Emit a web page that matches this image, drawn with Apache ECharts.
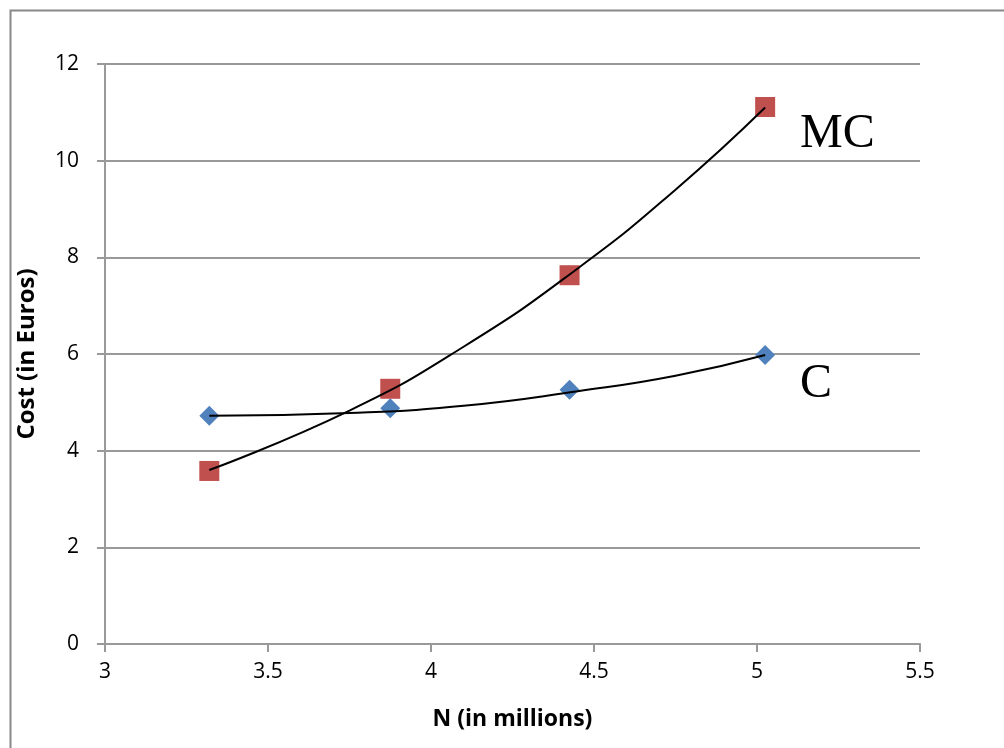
<!DOCTYPE html>
<html>
<head>
<meta charset="UTF-8">
<title>cost</title>
<script src="https://cdn.jsdelivr.net/npm/echarts@6/dist/echarts.min.js"></script>
<style>
	body { margin: 0; background: #fff; }
	#chart { width: 1004px; height: 748px; }
</style>
</head>
<body>
<div id="chart"></div>
<script>
	// data
	var nValues = [3.32, 3.875, 4.425, 5.025];
	var cValues = [4.72, 4.88, 5.26, 5.98];
	var mcValues = [3.58, 5.28, 7.63, 11.11];

	// trend lines
	var cTrendX = [3.32, 3.75, 4.1, 4.45, 4.75, 5.025];
	var cTrendY = [4.72, 4.78, 4.93, 5.23, 5.55, 5.98];
	var mcTrendX = [3.32, 3.75, 4.1, 4.45, 4.75, 5.025];
	var mcTrendY = [3.6, 4.83, 6.15, 7.77, 9.4, 11.1];

	function pairs(xs, ys) {
		var out = [];
		for (var i = 0; i < xs.length; i++) out.push([xs[i], ys[i]]);
		return out;
	}

	var myChart = echarts.init(document.getElementById('chart'));
	var option = {
		animation: false,
		grid: { left: 105, right: 84, top: 64, bottom: 104 },
		graphic: [
			{ type: 'rect', left: 8, top: 8, shape: { width: 1020, height: 770 },
			  style: { fill: 'none', stroke: '#888', lineWidth: 2 } },
			{ type: 'text', left: 800, top: 110,
			  style: { text: 'MC', font: '48px "Liberation Serif", serif', fill: '#000' } },
			{ type: 'text', left: 800, top: 360,
			  style: { text: 'C', font: '48px "Liberation Serif", serif', fill: '#000' } }
		],
		xAxis: {
			type: 'value', min: 3, max: 5.5, interval: 0.5,
			name: 'N (in millions)', nameLocation: 'middle', nameGap: 64,
			nameTextStyle: { fontFamily: 'Open Sans', fontWeight: 'bold', fontSize: 23, color: '#000' },
			axisLine: { lineStyle: { color: '#999', width: 2 } },
			axisTick: { show: true, length: 8, lineStyle: { color: '#999', width: 2 } },
			axisLabel: { fontFamily: 'Open Sans', fontSize: 21, color: '#000', margin: 18 },
			splitLine: { show: false }
		},
		yAxis: {
			type: 'value', min: 0, max: 12, interval: 2,
			name: 'Cost (in Euros)', nameLocation: 'middle', nameGap: 66,
			nameTextStyle: { fontFamily: 'Open Sans', fontWeight: 'bold', fontSize: 24, color: '#000' },
			axisLine: { show: true, lineStyle: { color: '#999', width: 2 } },
			axisTick: { show: true, length: 8, lineStyle: { color: '#999', width: 2 } },
			axisLabel: { fontFamily: 'Open Sans', fontSize: 21, color: '#000', margin: 26 },
			splitLine: { lineStyle: { color: '#999', width: 2 } }
		},
		series: [
			{
				name: 'C trend', type: 'line', smooth: 0.5, showSymbol: false,
				data: pairs(cTrendX, cTrendY),
				lineStyle: { color: '#000', width: 2 }, z: 3
			},
			{
				name: 'MC trend', type: 'line', smooth: 0.5, showSymbol: false,
				data: pairs(mcTrendX, mcTrendY),
				lineStyle: { color: '#000', width: 2 }, z: 3
			},
			{
				name: 'C', type: 'scatter', symbol: 'diamond', symbolSize: 20,
				data: pairs(nValues, cValues),
				itemStyle: { color: '#4F81BD', opacity: 1 }, z: 2
			},
			{
				name: 'MC', type: 'scatter', symbol: 'rect', symbolSize: 20,
				data: pairs(nValues, mcValues),
				itemStyle: { color: '#C0504D', opacity: 1 }, z: 2
			}
		]
	};
	myChart.setOption(option);
</script>
</body>
</html>
